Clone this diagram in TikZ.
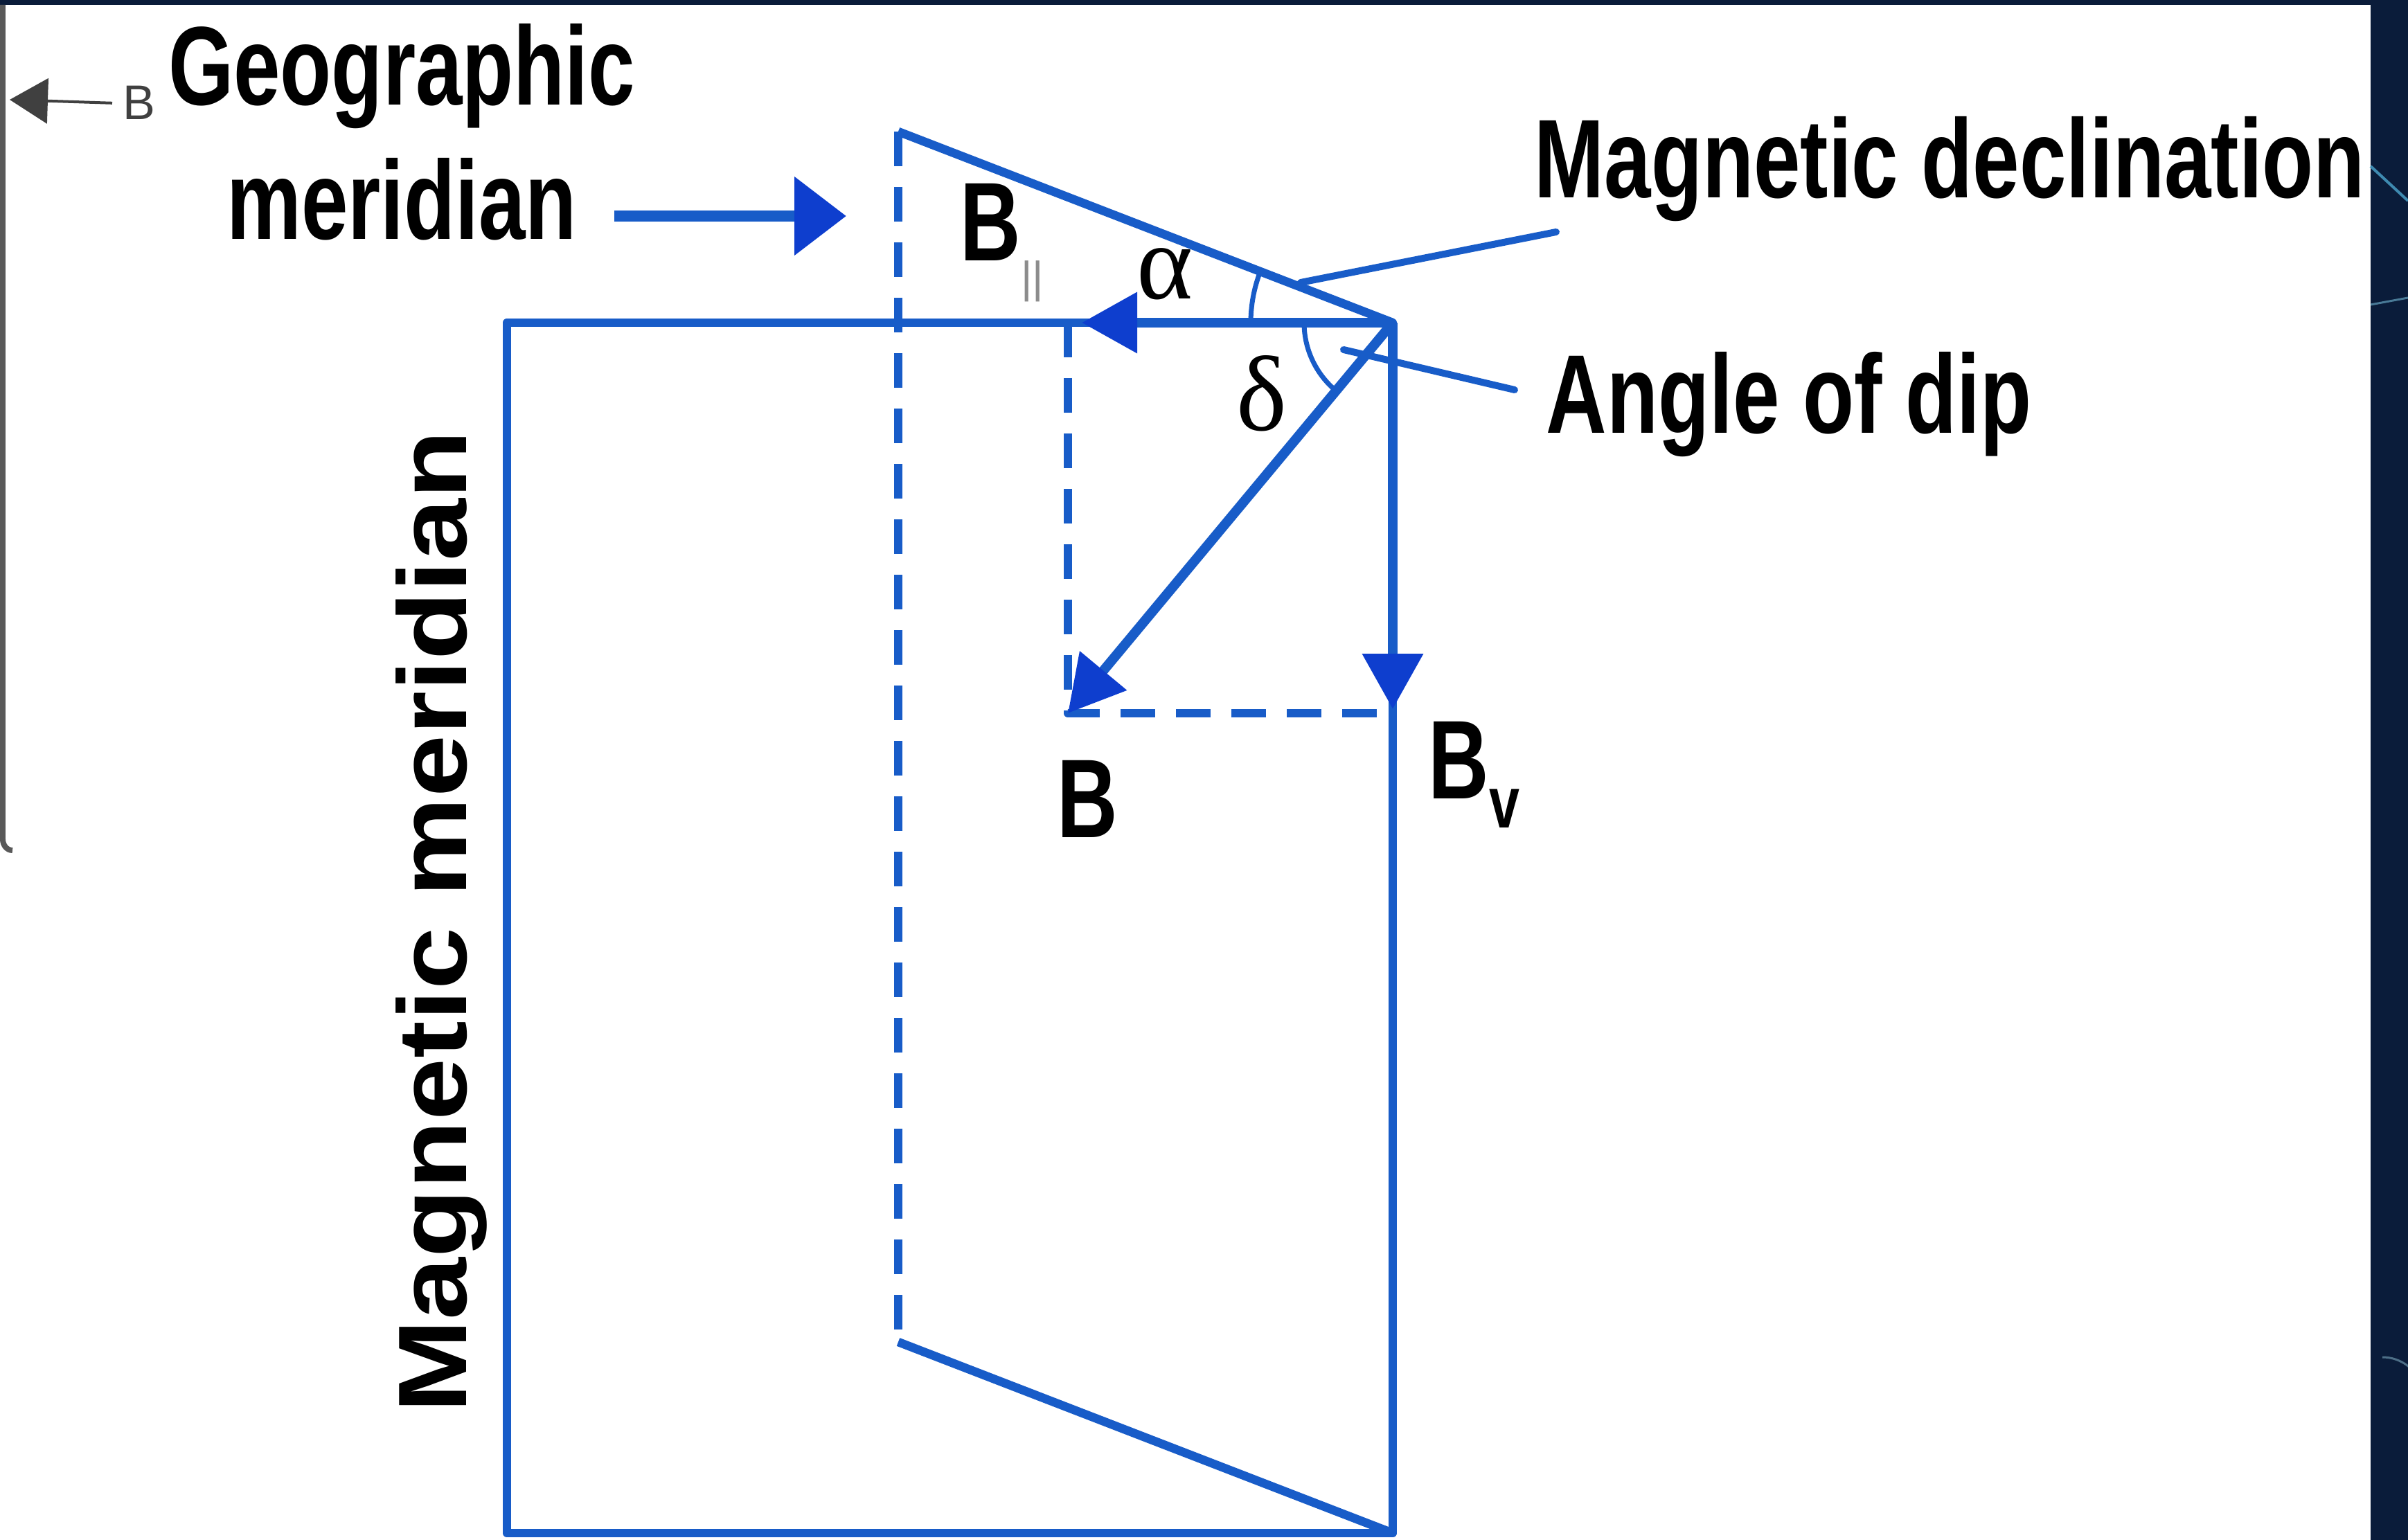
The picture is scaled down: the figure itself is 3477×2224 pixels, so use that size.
\documentclass[tikz,border=0pt]{standalone}
\usepackage{fontspec}
\setmainfont{Liberation Sans}
\newfontfamily\tagfont[FakeStretch=0.75]{Liberation Sans}
\newfontfamily\sidefont[FakeStretch=1.15]{Liberation Sans}
\newfontfamily\plainfont{Liberation Sans}
\newfontfamily\greekfont{Liberation Serif}
\usetikzlibrary{arrows.meta}
\definecolor{lineblue}{RGB}{24,92,200}
\definecolor{tipblue}{RGB}{14,62,206}
\definecolor{navy}{RGB}{10,28,58}

\begin{document}
\begin{tikzpicture}[x=0.1mm, y=-0.1mm,
  plane/.style={draw=lineblue, line width=1.25mm, line join=round},
  hidden/.style={plane, dash pattern=on 5mm off 3mm},
  vector/.style={draw=lineblue, line width=1.4mm, -{Triangle[length=8mm, width=8.5mm, color=tipblue]}},
  pointer/.style={draw=lineblue, line width=1.6mm, -{Triangle[length=7.5mm, width=11mm, color=tipblue]}},
  leader/.style={draw=lineblue, line width=1mm, line cap=round},
  anglearc/.style={draw=lineblue, line width=0.7mm},
  tag/.style={font=\tagfont\bfseries\fontsize{46}{55}\selectfont, inner sep=0pt},
  greek/.style={font=\greekfont\fontsize{44}{44}\selectfont, inner sep=0pt}]

  % page and the screen edges
  \fill[white] (0,0) rectangle (3477,2224);
  \useasboundingbox (0,0) rectangle (3477,2224);
  \fill[navy] (0,0) rectangle (3477,7);
  \fill[navy] (3423,0) rectangle (3477,2224);
  \draw[cyan!60!navy, line width=0.4mm] (3423,240) -- (3477,290);
  \draw[cyan!45!navy, line width=0.3mm] (3423,440) -- (3477,430);
  \draw[cyan!35!navy, line width=0.3mm] (3440,1960) arc[start angle=-90, end angle=30, radius=60];
  \draw[black!65, line width=0.8mm] (4,7) -- (4,1212) to[out=-90, in=180] (18,1228);

  \node[font=\plainfont\fontsize{20}{20}\selectfont, text=black!75, inner sep=0pt, anchor=base west] (tagB) at (177,173) {B};
  \coordinate (edgemark) at (14,144);
  \draw[black!75, line width=0.4mm, -{Triangle[length=5.5mm, width=6.5mm]}] ([xshift=-1.5mm]tagB.west) -- (edgemark);

  % planes
  \coordinate (O) at (2011,466);
  \coordinate (TL) at (732,466);
  \coordinate (BL) at (732,2214);
  \coordinate (BR) at (2011,2214);
  \coordinate (PT) at (1297,190);
  \coordinate (PB) at (1297,1938);
  \coordinate (Bpt) at (1542,1030);
  \coordinate (Bfoot) at (1542,466);
  \coordinate (Bvfoot) at (2011,1030);
  \coordinate (Bhtip) at (1562,466);
  \coordinate (Bvtip) at (2011,1024);

  \draw[plane] (TL) -- (O) -- (BR) -- (BL) -- cycle;
  \draw[plane] (PT) -- (O);
  \draw[plane] (PB) -- (BR);
  \draw[hidden] (PT) -- (PB);
  \draw[hidden] (Bfoot) -- (Bpt) -- (Bvfoot);

  % field and its components
  \draw[vector] (O) -- (Bhtip);
  \draw[vector] (O) -- (Bpt);
  \draw[vector] (O) -- (Bvtip);

  \draw[anglearc] (O) ++(180:205) arc[start angle=180, end angle=201.1, radius=205];
  \draw[anglearc] (O) ++(180:128) arc[start angle=180, end angle=129.7, radius=128];

  % labels
  \node[tag, align=center, anchor=north] (geo) at (580,34) {Geographic\\meridian};
  \coordinate (gmtail) at (887,312);
  \coordinate (gmtip) at (1222,312);
  \draw[pointer] (gmtail) -- (gmtip);

  \node[tag, anchor=base west] (decl) at (2215,286) {Magnetic declination};
  \node[tag, anchor=base west] (dip) at (2232,625) {Angle of dip};
  \coordinate (declend) at (1878,408);
  \coordinate (dipend) at (1940,505);
  \draw[leader] ([xshift=3.2mm, yshift=-4.9mm]decl.base west) -- (declend);
  \draw[leader] ([xshift=-4.5mm, yshift=6.2mm]dip.base west) -- (dipend);

  \node[tag, anchor=base west] (Bpar) at (1386,377) {B\raisebox{-13pt}{\plainfont\mdseries\color{black!45}\fontsize{18}{18}\selectfont ||}};
  \node[tag, anchor=base west] (Bres) at (1526,1209) {B};
  \node[tag, anchor=base west] (Bvert) at (2062,1153) {B\raisebox{-12pt}{\fontsize{30}{30}\selectfont v}};
  \node[greek, anchor=base west] (alpha) at (1641,432) {α};
  \node[greek, anchor=base west] (delta) at (1785,622) {δ};

  \node[font=\sidefont\bfseries\fontsize{40}{40}\selectfont, inner sep=0pt, rotate=90, anchor=base] (magmer) at (673,1331) {Magnetic meridian};
\end{tikzpicture}
\end{document}
